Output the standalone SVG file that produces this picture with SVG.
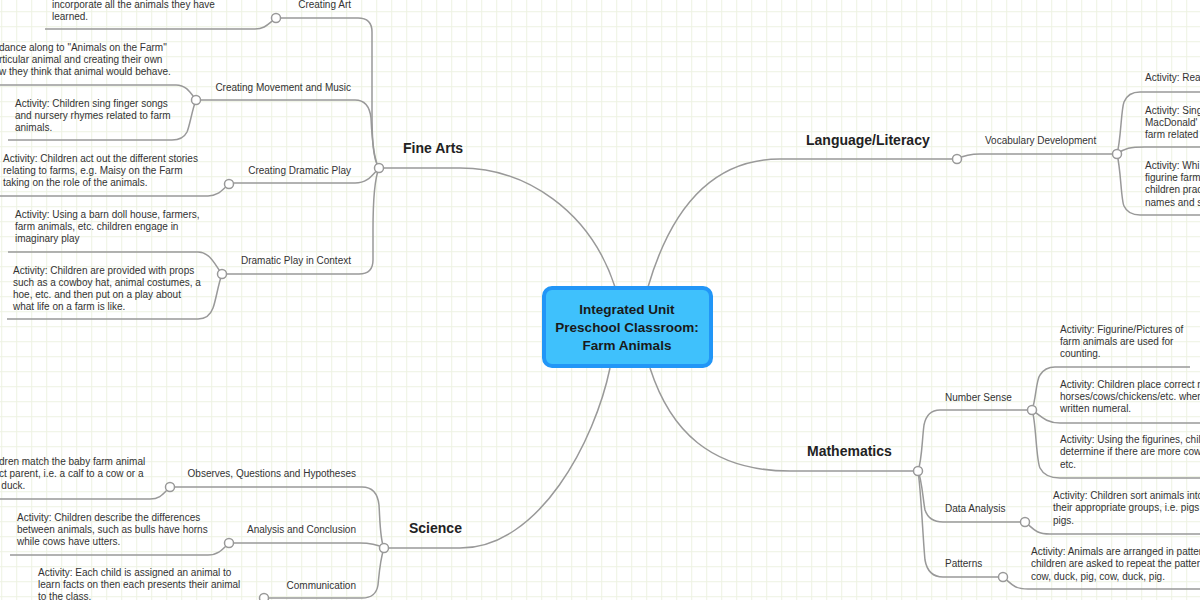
<svg xmlns="http://www.w3.org/2000/svg" width="1200" height="600" viewBox="0 0 1200 600">
<defs>
<pattern id="grid" patternUnits="userSpaceOnUse" x="1.2" y="11.2" width="15" height="15">
<path d="M0,0.5 H15 M0.5,0 V15" fill="none" stroke="#edf2e2" stroke-width="1"/>
</pattern>
<style>
.ln{fill:none;stroke:#999;stroke-width:1.5}
.dot{fill:#fff;stroke:#999;stroke-width:1.5}
.t{font-family:"Liberation Sans",Arial,sans-serif;font-size:10px;fill:#333}
.lb{font-family:"Liberation Sans",Arial,sans-serif;font-size:10px;fill:#333}
.h{font-family:"Liberation Sans",Arial,sans-serif;font-size:14px;font-weight:bold;fill:#222}
.c{font-family:"Liberation Sans",Arial,sans-serif;font-size:13.5px;font-weight:bold;fill:#1a1a1a;text-anchor:middle}
.r{text-anchor:end}
</style>
</defs>
<rect width="1200" height="600" fill="#fff"/>
<rect width="1200" height="600" fill="url(#grid)"/>

<g id="connectors">
<path class="ln" d="M615,287 C590,210 525,168 460,168 L384,168"/>
<path class="ln" d="M648,287 C672,205 715,159 780,159 L952,159"/>
<path class="ln" d="M650,368 C670,430 710,471 790,471 L913,471"/>
<path class="ln" d="M610,368 C595,440 540,548 460,548 L389,548"/>
<path class="ln" d="M379,168 C373,160 372,140 372,110 L372,32 Q372,18 358,18 L281,18"/>
<path class="ln" d="M379,168 C374,160 372,140 371,118 Q369,100 355,100 L201,100"/>
<path class="ln" d="M379,168 C372,175 368,183 355,183 L234,183"/>
<path class="ln" d="M379,168 C374,180 373,200 373,230 L373,260 Q373,274 359,274 L227,274"/>
<path class="ln" d="M276,18 C268,24 265,29 255,29 L45,29"/>
<path class="ln" d="M196,100 C190,92 186,85 176,85 L0,85"/>
<path class="ln" d="M196,100 C192,110 190,125 187,132 Q183,140 172,140 L8,140"/>
<path class="ln" d="M229,184 C222,190 218,196 208,196 L0,196"/>
<path class="ln" d="M222,274 C215,265 210,252 198,252 L8,252"/>
<path class="ln" d="M222,274 C218,285 216,300 213,308 Q209,319 198,319 L7,319"/>
<path class="ln" d="M384,548 C380,540 380,520 379,505 Q377,487 362,487 L175,487"/>
<path class="ln" d="M384,548 C378,545 370,543 360,543 L234,543"/>
<path class="ln" d="M384,548 C380,560 379,575 378,585 Q376,598 362,598 L269,598"/>
<path class="ln" d="M170,487 C163,494 160,499 150,499 L0,499"/>
<path class="ln" d="M229,543 C222,550 218,555 208,555 L10,555"/>
<path class="ln" d="M957,159 C965,155 970,154 980,154 L1112,154"/>
<path class="ln" d="M1117,154 C1121,140 1121,110 1124,102 Q1128,92 1140,92 L1200,92"/>
<path class="ln" d="M1117,154 C1125,148 1130,147 1145,147 L1200,147"/>
<path class="ln" d="M1117,154 C1121,170 1121,200 1124,206 Q1128,215 1140,215 L1200,215"/>
<path class="ln" d="M918,471 C922,460 922,440 924,425 Q927,410 940,410 L1027,410"/>
<path class="ln" d="M918,471 C922,480 923,500 925,510 Q929,522 943,522 L1020,522"/>
<path class="ln" d="M918,471 C921,490 923,540 925,560 Q928,577 943,577 L998,577"/>
<path class="ln" d="M1032,410 C1036,400 1036,380 1040,375 Q1045,367 1055,367 L1190,367"/>
<path class="ln" d="M1032,410 C1040,415 1045,423 1060,423 L1200,423"/>
<path class="ln" d="M1032,410 C1036,420 1036,460 1040,468 Q1045,478 1060,478 L1200,478"/>
<path class="ln" d="M1025,522 C1033,528 1035,534 1050,534 L1200,534"/>
<path class="ln" d="M1003,577 C1011,583 1013,589 1028,589 L1200,589"/>
</g>

<g id="central">
<rect x="544" y="288" width="167" height="78" rx="8" fill="#3fc1fc" stroke="#2196f7" stroke-width="4"/>
<text class="c" x="627" y="314">Integrated Unit</text>
<text class="c" x="627" y="332">Preschool Classroom:</text>
<text class="c" x="627" y="350">Farm Animals</text>
</g>

<g id="fine-arts">
<circle class="dot" cx="379" cy="168" r="4.5"/>
<text class="h" x="403" y="153">Fine Arts</text>
</g>
<g id="creating-art">
<circle class="dot" cx="276" cy="18" r="4.5"/>
<text class="lb r" x="351" y="8">Creating Art</text>
<text class="t" x="52" y="8">incorporate all the animals they have</text>
<text class="t" x="52" y="20">learned.</text>
</g>
<g id="movement-music">
<circle class="dot" cx="196" cy="100" r="4.5"/>
<text class="lb r" x="351" y="91">Creating Movement and Music</text>
<text class="t" x="-1" y="51">dance along to "Animals on the Farm"</text>
<text class="t" x="-1" y="63">rticular animal and creating their own</text>
<text class="t" x="-1" y="75">w they think that animal would behave.</text>
<text class="t" x="15" y="107">Activity: Children sing finger songs</text>
<text class="t" x="15" y="119">and nursery rhymes related to farm</text>
<text class="t" x="15" y="131">animals.</text>
</g>
<g id="dramatic-play">
<circle class="dot" cx="229" cy="184" r="4.5"/>
<text class="lb r" x="351" y="174">Creating Dramatic Play</text>
<text class="t" x="3" y="162">Activity: Children act out the different stories</text>
<text class="t" x="3" y="174">relating to farms, e.g. Maisy on the Farm</text>
<text class="t" x="3" y="186">taking on the role of the animals.</text>
</g>
<g id="dramatic-context">
<circle class="dot" cx="222" cy="274" r="4.5"/>
<text class="lb r" x="351" y="264">Dramatic Play in Context</text>
<text class="t" x="15" y="218">Activity: Using a barn doll house, farmers,</text>
<text class="t" x="15" y="230">farm animals, etc. children engage in</text>
<text class="t" x="15" y="242">imaginary play</text>
<text class="t" x="13" y="274">Activity: Children are provided with props</text>
<text class="t" x="13" y="286">such as a cowboy hat, animal costumes, a</text>
<text class="t" x="13" y="298">hoe, etc. and then put on a play about</text>
<text class="t" x="13" y="310">what life on a farm is like.</text>
</g>

<g id="science">
<circle class="dot" cx="384" cy="548" r="4.5"/>
<text class="h" x="409" y="533">Science</text>
</g>
<g id="observes">
<circle class="dot" cx="170" cy="487" r="4.5"/>
<text class="lb r" x="356" y="477">Observes, Questions and Hypotheses</text>
<text class="t" x="-1" y="465">dren match the baby farm animal</text>
<text class="t" x="-1" y="477">ct parent, i.e. a calf to a cow or a</text>
<text class="t" x="-7" y="489">a duck.</text>
</g>
<g id="analysis">
<circle class="dot" cx="229" cy="543" r="4.5"/>
<text class="lb r" x="356" y="533">Analysis and Conclusion</text>
<text class="t" x="17" y="521">Activity: Children describe the differences</text>
<text class="t" x="17" y="533">between animals, such as bulls have horns</text>
<text class="t" x="17" y="545">while cows have utters.</text>
</g>
<g id="communication">
<circle class="dot" cx="264" cy="598" r="4.5"/>
<text class="lb r" x="356" y="589">Communication</text>
<text class="t" x="38" y="576">Activity: Each child is assigned an animal to</text>
<text class="t" x="38" y="588">learn facts on then each presents their animal</text>
<text class="t" x="38" y="600">to the class.</text>
</g>

<g id="language">
<circle class="dot" cx="957" cy="159" r="4.5"/>
<text class="h" x="806" y="145">Language/Literacy</text>
</g>
<g id="vocabulary">
<circle class="dot" cx="1117" cy="154" r="4.5"/>
<text class="lb" x="985" y="144">Vocabulary Development</text>
<text class="t" x="1145" y="81">Activity: Rea</text>
<text class="t" x="1145" y="114">Activity: Sing</text>
<text class="t" x="1145" y="126">MacDonald' a</text>
<text class="t" x="1145" y="138">farm related</text>
<text class="t" x="1145" y="169">Activity: Whi</text>
<text class="t" x="1145" y="181">figurine farm</text>
<text class="t" x="1145" y="193">children prac</text>
<text class="t" x="1145" y="206">names and s</text>
</g>

<g id="mathematics">
<circle class="dot" cx="918" cy="471" r="4.5"/>
<text class="h" x="807" y="456">Mathematics</text>
</g>
<g id="number-sense">
<circle class="dot" cx="1032" cy="410" r="4.5"/>
<text class="lb" x="945" y="401">Number Sense</text>
<text class="t" x="1060" y="333">Activity: Figurine/Pictures of</text>
<text class="t" x="1060" y="345">farm animals are used for</text>
<text class="t" x="1060" y="357">counting.</text>
<text class="t" x="1060" y="388">Activity: Children place correct n</text>
<text class="t" x="1060" y="400">horses/cows/chickens/etc. wher</text>
<text class="t" x="1060" y="412">written numeral.</text>
<text class="t" x="1060" y="443">Activity: Using the figurines, chil</text>
<text class="t" x="1060" y="455">determine if there are more cow</text>
<text class="t" x="1060" y="468">etc.</text>
</g>
<g id="data-analysis">
<circle class="dot" cx="1025" cy="522" r="4.5"/>
<text class="lb" x="945" y="512">Data Analysis</text>
<text class="t" x="1053" y="499">Activity: Children sort animals into</text>
<text class="t" x="1053" y="511">their appropriate groups, i.e. pigs w</text>
<text class="t" x="1053" y="524">pigs.</text>
</g>
<g id="patterns">
<circle class="dot" cx="1003" cy="577" r="4.5"/>
<text class="lb" x="945" y="567">Patterns</text>
<text class="t" x="1031" y="555">Activity: Animals are arranged in patter</text>
<text class="t" x="1031" y="567">children are asked to repeat the patterr</text>
<text class="t" x="1031" y="580">cow, duck, pig, cow, duck, pig.</text>
</g>
</svg>
